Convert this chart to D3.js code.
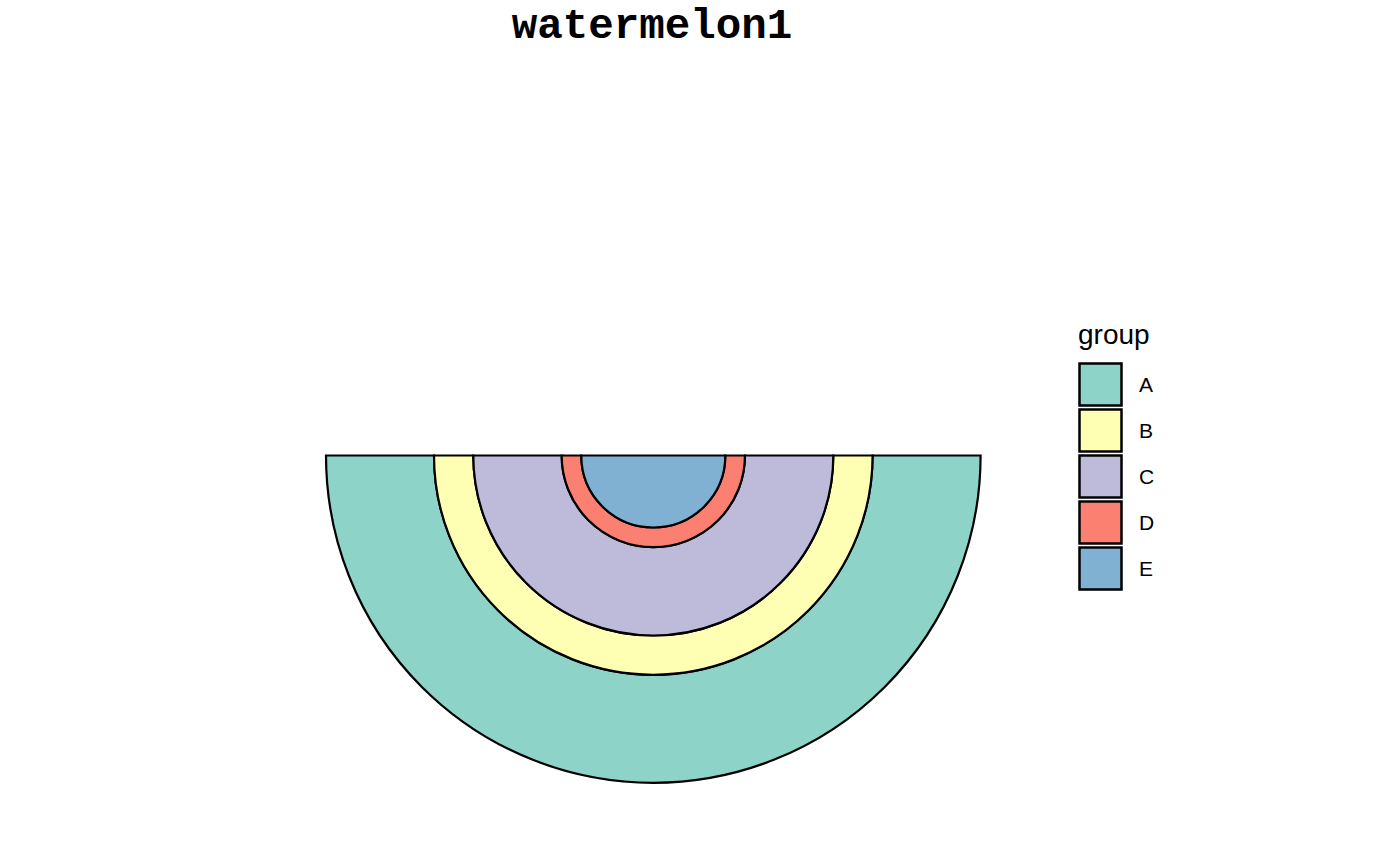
<!DOCTYPE html>
<html>
<head>
<meta charset="utf-8">
<script src="https://cdn.jsdelivr.net/npm/d3@7"></script>
<style>
html, body { margin: 0; padding: 0; background: #fff; }
svg { display: block; }
</style>
</head>
<body>
<svg id="chart" width="1400" height="865"></svg>
<script>
// Data
const titleText = "watermelon1";
const legendTitle = "group";
const groups = ["A", "B", "C", "D", "E"];
const values = [33, 12, 27, 6, 22];
const colors = ["#8DD3C7", "#FFFFB3", "#BEBADA", "#FB8072", "#80B1D3"];

const svg = d3.select("#chart");
const cx = 653.3, cy = 455.5, Rmax = 327.3;

// Stack from center outward: E, D, C, B, A
const order = groups.slice().reverse();
const byGroup = new Map(groups.map((g, i) => [g, values[i]]));
let cum = 0;
const rings = order.map(g => {
  const r0 = cum;
  cum += byGroup.get(g);
  return { group: g, r0: r0, r1: cum };
});
const total = cum;
const r = d3.scaleLinear().domain([0, total]).range([0, Rmax]);
const color = d3.scaleOrdinal().domain(groups).range(colors);

const arc = d3.arc()
  .innerRadius(d => r(d.r0))
  .outerRadius(d => r(d.r1))
  .startAngle(Math.PI / 2)
  .endAngle(3 * Math.PI / 2);

const g = svg.append("g").attr("transform", `translate(${cx},${cy})`);
g.selectAll("path.ring")
  .data(rings.slice().reverse())
  .join("path")
  .attr("class", "ring")
  .attr("d", arc)
  .attr("fill", d => color(d.group))
  .attr("stroke", "#000")
  .attr("stroke-width", 2.2)
  .attr("stroke-linejoin", "miter");

// Title
svg.append("text")
  .attr("x", 652)
  .attr("y", 38)
  .attr("text-anchor", "middle")
  .attr("font-family", "'Liberation Mono', 'Courier New', monospace")
  .attr("font-weight", "bold")
  .attr("font-size", 42.5)
  .text(titleText);

// Legend
const lg = svg.append("g").attr("transform", "translate(1078,0)");
lg.append("text")
  .attr("x", 0)
  .attr("y", 344)
  .attr("font-family", "'Liberation Sans', Arial, sans-serif")
  .attr("font-size", 28)
  .attr("fill", "#000")
  .text(legendTitle);

const ky = d3.scaleBand().domain(groups).range([362, 362 + 46 * groups.length]).padding(0);
const keys = lg.selectAll("g.key").data(groups).join("g").attr("class", "key")
  .attr("transform", d => `translate(0,${ky(d)})`);
keys.append("rect")
  .attr("x", 1.5).attr("y", 1.5)
  .attr("width", 42).attr("height", 42)
  .attr("fill", d => color(d))
  .attr("stroke", "#000")
  .attr("stroke-width", 2.5);
keys.append("text")
  .attr("x", 61)
  .attr("y", 23)
  .attr("dy", "0.35em")
  .attr("font-family", "'Liberation Sans', Arial, sans-serif")
  .attr("font-size", 21)
  .attr("fill", "#000")
  .text(d => d);
</script>
</body>
</html>
